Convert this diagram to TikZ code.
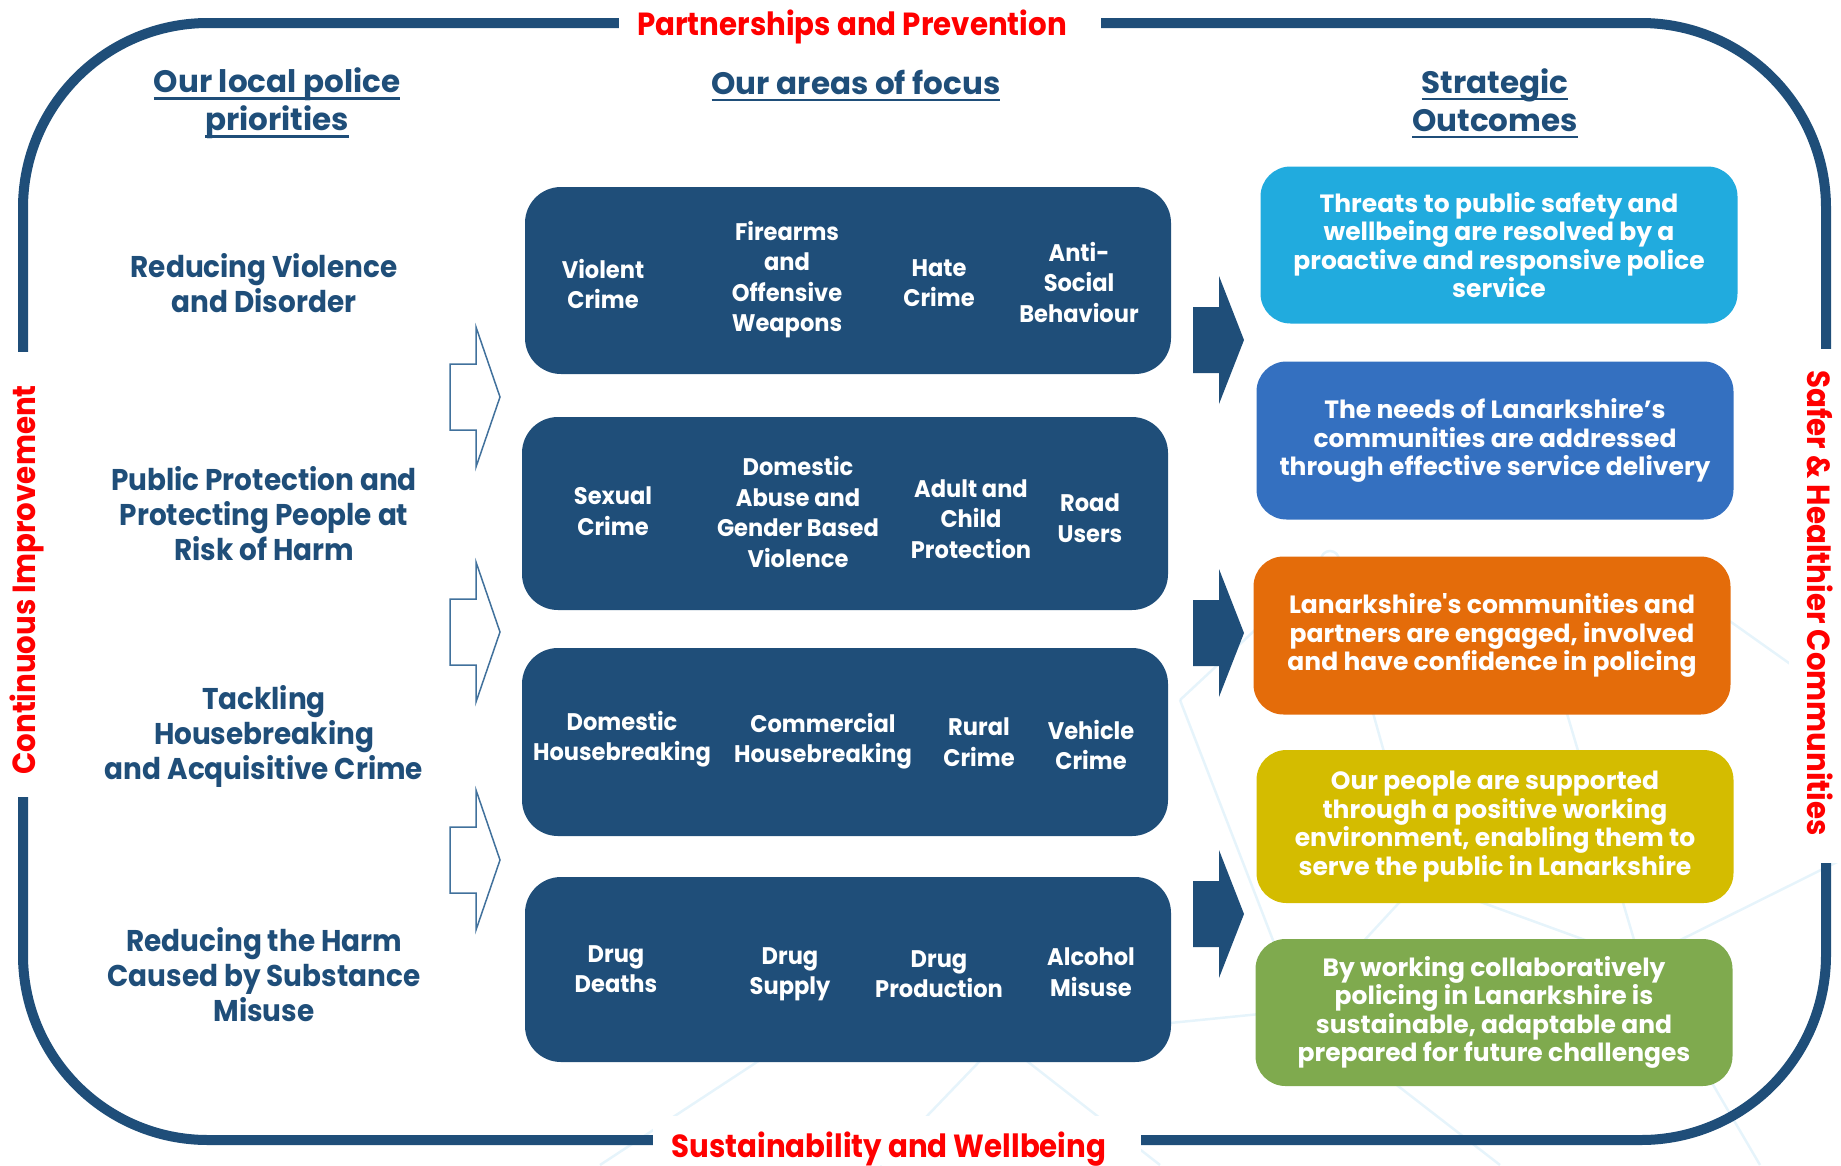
\documentclass[tikz,border=0pt]{standalone}
\usepackage{fontspec}
\setmainfont{Poppins}
\newfontfamily\lblfont{Poppins}[FakeStretch=0.915]
\newfontfamily\priofont{Poppins}[FakeStretch=0.93]
\newfontfamily\focusfont{Poppins}[FakeStretch=0.94]

\definecolor{pnavy}{HTML}{1F4E79}
\definecolor{pedge}{HTML}{41719C}
\definecolor{pred}{HTML}{FF0000}
\definecolor{pmesh}{HTML}{D6ECF8}
\definecolor{ocyan}{HTML}{21ABDE}
\definecolor{oblue}{HTML}{3470C0}
\definecolor{oorange}{HTML}{E46C0A}
\definecolor{oyellow}{HTML}{D4BC00}
\definecolor{ogreen}{HTML}{7FAA4E}

\newcommand{\hdrul}[1]{\setbox0=\hbox{#1}\rlap{\rule[-7pt]{\wd0}{2.5pt}}\box0}

\tikzset{frameline/.style = {pnavy, line width=10pt, rounded corners=185pt},
         framelbl/.style = {text=pred, font=\lblfont\bfseries\fontsize{32}{36}\selectfont, inner sep=0pt},
         header/.style = {text=pnavy, font=\bfseries\fontsize{31}{38}\selectfont, align=center},
         priority/.style = {text=pnavy, font=\priofont\bfseries\fontsize{30}{35}\selectfont, align=center},
         focusbox/.style = {fill=pnavy, rounded corners=36pt},
         focustxt/.style = {text=white, font=\focusfont\bfseries\fontsize{24}{30.5}\selectfont, align=center},
         outcome/.style = {text=white, font=\bfseries\fontsize{25}{28.5}\selectfont, align=center,
                           minimum width=477pt, rounded corners=30pt, inner sep=0pt},
         hollowarrow/.style = {draw=pedge, line width=1.5pt, fill=white},
         solidarrow/.style = {fill=pnavy},
         mesh/.style = {pmesh, line width=2.5pt, opacity=0.6}}

\begin{document}
\begin{tikzpicture}[x=1pt, y=-1pt]
    \useasboundingbox (0,0) rectangle (1841,1165);

    % faint network in the background
    \foreach \xa/\ya/\xb/\yb in {1180/700/1330/560, 1330/560/1560/690, 1560/690/1700/600,
                                 1560/690/1640/960, 1640/960/1841/860, 1420/880/1640/960,
                                 1420/880/1330/560, 1300/1010/1420/880, 1300/1010/1500/1165,
                                 1640/960/1760/1165, 1700/600/1841/700, 1180/700/1300/1010,
                                 880/1165/1000/1040, 1000/1040/1160/1165, 1000/1040/1300/1010,
                                 600/1165/760/1060, 760/1060/1000/1040} {
      \draw [mesh] (\xa,\ya) -- (\xb,\yb);
    }
    \foreach \xc/\yc in {1330/560, 1560/690, 1640/960, 1420/880, 1000/1040, 1300/1010} {
      \draw [mesh] (\xc,\yc) circle (9pt);
    }

    % frame and its four labels
    \draw [frameline] (23,23) rectangle (1826,1140);
    \fill [white] (619,0) rectangle (1101,48);
    \fill [white] (653,1116) rectangle (1141,1165);
    \fill [white] (0,352) rectangle (48,797);
    \fill [white] (1789,349) rectangle (1841,863);
    \node [framelbl] (partner) at (852,27) {Partnerships and Prevention};
    \node [framelbl] (sustain) at (889,1149) {Sustainability and Wellbeing};
    \node [framelbl, rotate=90] (contimp) at (27,580) {Continuous Improvement};
    \node [framelbl, rotate=-90] (safer) at (1820,603) {Safer \& Healthier Communities};

    % column headings
    \node [header] (prioh) at (277,103.5) {\hdrul{Our local police}\\\hdrul{priorities}};
    \node [header] (focush) at (856,85.5) {\hdrul{Our areas of focus}};
    \node [header] (outh) at (1495,103.5) {\hdrul{Strategic}\\\hdrul{Outcomes}};

    % priorities
    \node [priority] (prio1) at (264,283) {Reducing Violence\\and Disorder};
    \node [priority] (prio2) at (264,514) {Public Protection and\\Protecting People at\\Risk of Harm};
    \node [priority] (prio3) at (264,736) {Tackling\\Housebreaking\\and Acquisitive Crime};
    \node [priority] (prio4) at (264,975) {Reducing the Harm\\Caused by Substance\\Misuse};

    \foreach \ya in {397, 632, 860} {
      \draw [hollowarrow] (450,\ya-33) -- (476,\ya-33) -- (476,\ya-70) -- (500,\ya)
        -- (476,\ya+70) -- (476,\ya+33) -- (450,\ya+33) -- cycle;
    }

    % areas of focus
    \fill [focusbox] (525,187) rectangle (1171,374);
    \fill [focusbox] (522,417) rectangle (1168,610);
    \fill [focusbox] (522,648) rectangle (1168,836);
    \fill [focusbox] (525,877) rectangle (1171,1062);

    \node [focustxt] (violent) at (603,284) {Violent\\Crime};
    \node [focustxt] (firearms) at (787,279.5) {Firearms\\and\\Offensive\\Weapons};
    \node [focustxt] (hate) at (939,283) {Hate\\Crime};
    \node [focustxt] (antisoc) at (1079,282) {Anti-\\Social\\Behaviour};

    \node [focustxt] (sexual) at (613,511) {Sexual\\Crime};
    \node [focustxt] (domabuse) at (798,512) {Domestic\\Abuse and\\Gender Based\\Violence};
    \node [focustxt] (adultch) at (971,519) {Adult and\\Child\\Protection};
    \node [focustxt] (road) at (1090,518) {Road\\Users};

    \node [focustxt] (domhb) at (622,739) {Domestic\\Housebreaking};
    \node [focustxt] (comhb) at (823,741) {Commercial\\Housebreaking};
    \node [focustxt] (rural) at (979,742) {Rural\\Crime};
    \node [focustxt] (vehicle) at (1091,745) {Vehicle\\Crime};

    \node [focustxt] (deaths) at (616,969) {Drug\\Deaths};
    \node [focustxt] (supply) at (790,974.5) {Drug\\Supply};
    \node [focustxt] (product) at (939,974) {Drug\\Production};
    \node [focustxt] (alcohol) at (1091,972) {Alcohol\\Misuse};

    \foreach \yb in {340, 633, 914} {
      \fill [solidarrow] (1193,\yb-33) -- (1219,\yb-33) -- (1219,\yb-64) -- (1244,\yb)
        -- (1219,\yb+64) -- (1219,\yb+33) -- (1193,\yb+33) -- cycle;
    }

    % strategic outcomes
    \node [outcome, fill=ocyan, minimum height=157pt] (out1) at (1499,245)
      {Threats to public safety and\\wellbeing are resolved by a\\proactive and responsive police\\service};
    \node [outcome, fill=oblue, minimum height=158pt] (out2) at (1495,440.5)
      {The needs of Lanarkshire’s\\communities are addressed\\through effective service delivery};
    \node [outcome, fill=oorange, minimum height=158pt] (out3) at (1492,635.5)
      {Lanarkshire\textquotesingle s communities and\\partners are engaged, involved\\and have confidence in policing};
    \node [outcome, fill=oyellow, minimum height=153pt] (out4) at (1495,826.5)
      {Our people are supported\\through a positive working\\environment, enabling them to\\serve the public in Lanarkshire};
    \node [outcome, fill=ogreen, minimum height=147pt] (out5) at (1494,1012.5)
      {By working collaboratively\\policing in Lanarkshire is\\sustainable, adaptable and\\prepared for future challenges};
  \end{tikzpicture}
\end{document}
